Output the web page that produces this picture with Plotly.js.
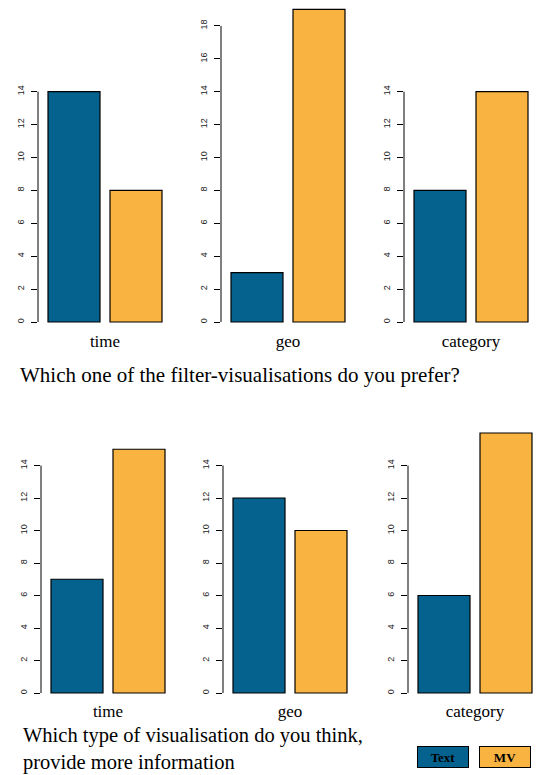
<!DOCTYPE html>
<html><head><meta charset="utf-8">
<script src="https://cdn.plot.ly/plotly-3.0.1.min.js"></script>
<style>html,body{margin:0;padding:0;background:#fff}</style>
</head><body><div id="chart" style="width:549px;height:775px"></div>
<script>
// ---- data ----
const panelNames = ['time', 'geo', 'category', 'time', 'geo', 'category'];
const seriesNames = ['Text', 'MV'];
const textValues = [14, 3, 8, 7, 12, 6];
const mvValues = [8, 19, 14, 15, 10, 16];
const ticks14 = [0, 2, 4, 6, 8, 10, 12, 14];
const ticks18 = [0, 2, 4, 6, 8, 10, 12, 14, 16, 18];
const panelTicks = [ticks14, ticks18, ticks14, ticks14, ticks14, ticks14];
const question1 = 'Which one of the filter-visualisations do you prefer?';
const question2 = ['Which type of visualisation do you think,', 'provide more information'];

// ---- geometry / style ----
const W = 549, H = 775;
const axisX = [38, 221, 404, 41, 223, 408];
const zeroY = [322, 322, 322, 693, 693, 693];
const pxPerUnit = [16.45, 16.45, 16.45, 16.25, 16.25, 16.25];
const topY = [2, 2, 2, 420, 420, 420];
const titleStandoff = [5, 5, 5, 4, 4, 4];
const botPad = 8;
const catPx = 62, barPx = 52, leftPad = 36;
const colors = ['#05628e', '#f9b341'];
const serif = 'Liberation Serif, Times New Roman, serif';
const sans = 'Liberation Sans, Arial, sans-serif';

const traces = [];
const layout = {
  width: W, height: H,
  margin: {l: 0, r: 0, t: 0, b: 0},
  paper_bgcolor: '#fff', plot_bgcolor: 'rgba(0,0,0,0)',
  barmode: 'overlay',
  showlegend: false,
  shapes: [],
  annotations: []
};

for (let i = 0; i < 6; i++) {
  const n = i === 0 ? '' : String(i + 1);
  const xa = 'x' + n, ya = 'y' + n;
  const vals = [textValues[i], mvValues[i]];
  for (let s = 0; s < 2; s++) {
    traces.push({
      type: 'bar', x: [seriesNames[s]], y: [vals[s]],
      xaxis: xa, yaxis: ya, name: seriesNames[s], legendgroup: seriesNames[s],
      width: barPx / catPx,
      marker: {color: colors[s], line: {color: '#000', width: 1.2}},
      hovertemplate: panelNames[i] + ' – ' + seriesNames[s] + ': %{y}<extra></extra>'
    });
  }
  const x0 = axisX[i], x1 = axisX[i] + 2 * leftPad + catPx;
  layout['xaxis' + n] = {
    domain: [x0 / W, x1 / W],
    type: 'category', categoryorder: 'array', categoryarray: seriesNames,
    range: [-leftPad / catPx, 1 + leftPad / catPx],
    anchor: ya, showline: false, showgrid: false, zeroline: false,
    ticks: '', showticklabels: false, fixedrange: true,
    title: {text: panelNames[i], font: {family: serif, size: 17, color: '#000'}, standoff: titleStandoff[i]}
  };
  const yb = zeroY[i] + botPad, yt = topY[i];
  layout['yaxis' + n] = {
    domain: [1 - yb / H, 1 - yt / H],
    range: [-botPad / pxPerUnit[i], (zeroY[i] - yt) / pxPerUnit[i]],
    anchor: xa, showline: false, showgrid: false, zeroline: false,
    tickmode: 'array', tickvals: panelTicks[i],
    ticks: 'outside', ticklen: 6, tickwidth: 1, tickcolor: '#000',
    ticklabelstandoff: 3,
    tickangle: -90, tickfont: {family: sans, size: 9, color: '#222'},
    fixedrange: true
  };
  layout.shapes.push({
    type: 'line', xref: xa + ' domain', yref: ya,
    x0: 0, x1: 0, y0: 0, y1: panelTicks[i][panelTicks[i].length - 1],
    line: {color: '#000', width: 1}
  });
}

layout.annotations.push(
  {text: question1, xref: 'paper', yref: 'paper', x: 18 / W, y: 1 - 375 / H,
   xanchor: 'left', yanchor: 'middle', showarrow: false,
   font: {family: serif, size: 21, color: '#000'}},
  {text: question2.join('<br>'), xref: 'paper', yref: 'paper', x: 22 / W, y: 0,
   xanchor: 'left', yanchor: 'bottom', align: 'left', showarrow: false, borderpad: 0,
   font: {family: serif, size: 20.5, color: '#000'}}
);
const legX = [443, 505];
for (let s = 0; s < 2; s++) {
  layout.annotations.push({
    text: '<b>' + seriesNames[s] + '</b>', xref: 'paper', yref: 'paper',
    x: legX[s] / W, y: 1 - 757 / H, xanchor: 'center', yanchor: 'middle',
    showarrow: false, width: 48, height: 18, borderpad: 1, borderwidth: 1,
    bordercolor: '#000', bgcolor: colors[s],
    font: {family: serif, size: 13, color: '#000'}
  });
}

Plotly.newPlot('chart', traces, layout, {displayModeBar: false, staticPlot: true});
</script>
</body></html>
